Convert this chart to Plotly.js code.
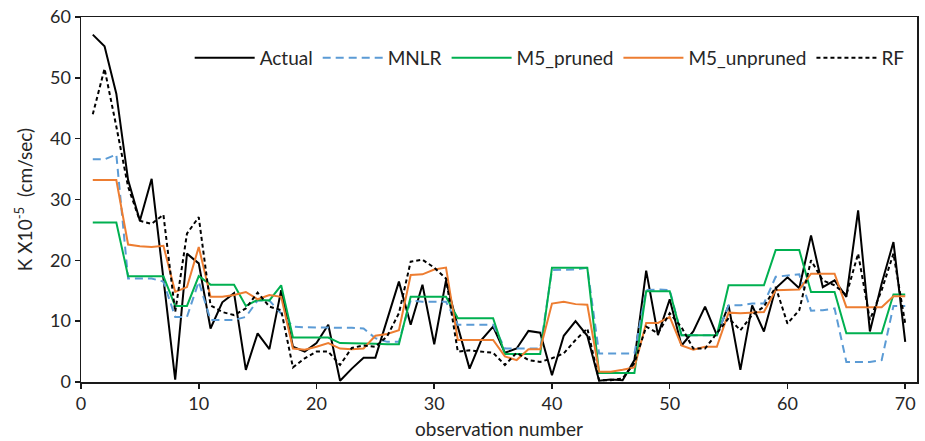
<!DOCTYPE html>
<html>
<head>
<meta charset="utf-8">
<script src="https://cdn.plot.ly/plotly-3.0.1.min.js"></script>
<style>html,body{margin:0;padding:0;background:#fff;}#chart{width:925px;height:441px;}</style>
</head>
<body>
<div id="chart"></div>
<script>
const obs = Array.from({length: 70}, (_, i) => i + 1);

const actual = [57.1,55.2,47.4,33.2,26.5,33.4,17.0,0.4,21.1,19.5,
  8.8,13.1,14.6,2.0,8.0,5.4,15.1,5.8,5.0,6.4,
  9.4,0.2,2.2,4.0,4.0,10.2,16.5,9.4,16.0,6.2,
  16.7,9.1,2.2,6.9,9.1,4.8,5.5,8.4,8.1,1.1,
  7.6,10.0,7.6,0.2,0.4,0.3,3.6,18.3,7.7,13.6,
  6.0,8.3,12.4,7.7,12.6,2.0,12.6,8.3,15.4,17.2,
  15.4,24.1,15.6,16.7,14.0,28.2,8.3,16.2,23.0,6.6];

const mnlr = [36.6,36.6,37.4,17.0,17.0,17.0,16.5,10.7,10.7,16.5,
  10.2,10.2,10.2,10.7,13.4,13.4,11.3,9.1,9.0,9.0,
  9.0,8.9,8.9,8.8,7.2,6.6,6.6,13.4,13.2,13.2,
  13.2,9.4,9.4,9.4,9.4,5.5,5.5,5.5,5.5,18.4,
  18.4,18.5,18.8,4.7,4.7,4.7,4.7,15.1,15.2,15.1,
  7.7,7.7,7.7,7.7,12.6,12.6,12.9,12.9,17.3,17.5,
  17.7,11.7,11.8,12.1,3.3,3.3,3.3,3.6,12.5,12.5];

const m5Pruned = [26.2,26.2,26.2,17.4,17.4,17.4,17.4,12.5,12.5,17.4,
  16.0,16.0,16.0,12.5,13.5,13.4,15.9,7.3,7.3,7.3,
  7.3,6.4,6.4,6.4,6.3,6.2,6.2,14.0,14.0,14.0,
  14.0,10.5,10.5,10.5,10.5,4.6,4.6,4.6,4.6,18.8,
  18.8,18.8,18.8,1.5,1.5,1.5,1.5,14.9,14.9,14.9,
  7.7,7.7,7.7,7.7,15.9,15.9,15.9,15.9,21.7,21.7,
  21.7,14.8,14.8,14.8,8.0,8.0,8.0,8.0,14.4,14.4];

const m5Unpruned = [33.2,33.2,33.2,22.6,22.3,22.2,22.4,14.8,15.6,22.2,
  14.0,14.0,14.3,14.8,13.6,14.3,14.0,5.5,5.3,5.8,
  6.4,5.5,5.4,5.5,7.6,7.9,8.5,17.6,17.7,18.5,
  18.8,6.9,6.9,6.9,6.9,4.2,3.6,5.4,5.4,12.9,
  13.2,12.8,12.7,1.7,1.7,2.0,2.4,9.7,9.7,10.7,
  6.0,5.3,5.8,5.8,11.4,11.3,11.4,11.5,15.1,15.1,
  15.2,17.8,17.8,17.8,12.3,12.3,12.3,12.3,14.1,14.1];

const rf = [44.0,51.5,42.0,32.1,26.5,26.0,27.5,11.5,24.4,27.1,
  12.6,11.5,11.0,12.1,14.7,12.4,11.8,2.4,3.9,5.0,
  5.0,2.8,5.6,6.0,5.8,7.5,11.3,19.8,20.1,18.8,
  17.0,5.0,5.2,5.0,4.8,2.8,4.8,3.6,3.3,3.9,
  4.7,6.9,8.8,0.3,0.3,0.6,3.1,9.1,8.0,11.3,
  9.0,5.5,5.5,8.0,10.5,8.5,11.0,12.4,15.6,9.6,
  11.8,20.0,16.7,15.9,14.3,21.1,10.2,15.1,21.1,9.6];

const xTicks = [0,10,20,30,40,50,60,70];
const yTicks = [0,10,20,30,40,50,60];

const FONT = 'Lato, "Open Sans", sans-serif';

const traces = [
  {x: obs, y: actual, name: 'Actual', mode: 'lines', line: {color: '#000000', width: 2}},
  {x: obs, y: mnlr, name: 'MNLR', mode: 'lines', line: {color: '#5B9BD5', width: 2, dash: '8px,5px'}},
  {x: obs, y: m5Pruned, name: 'M5_pruned', mode: 'lines', line: {color: '#00B050', width: 2}},
  {x: obs, y: m5Unpruned, name: 'M5_unpruned', mode: 'lines', line: {color: '#ED7D31', width: 2}},
  {x: obs, y: rf, name: 'RF', mode: 'lines', line: {color: '#000000', width: 2, dash: '4px,3px'}}
];

const layout = {
  width: 925, height: 441,
  margin: {l: 81, r: 8, t: 17, b: 59},
  paper_bgcolor: '#ffffff', plot_bgcolor: '#ffffff',
  font: {family: FONT, size: 18, color: '#262626'},
  showlegend: true,
  legend: {
    orientation: 'h', x: 0.13, xanchor: 'left', y: 0.888, yanchor: 'middle',
    bgcolor: 'rgba(0,0,0,0)', font: {family: FONT, size: 19, color: '#262626'},
    itemwidth: 60
  },
  xaxis: {
    range: [0, 71], tickvals: xTicks, ticktext: xTicks.map(String),
    showgrid: false, zeroline: false, showline: true, mirror: true,
    linecolor: '#1a1a1a', linewidth: 1.5,
    ticks: 'outside', ticklen: 5, tickwidth: 1.5, tickcolor: '#1a1a1a',
    tickfont: {family: FONT, size: 18, color: '#262626'},
    title: {text: 'observation number', font: {family: FONT, size: 19, color: '#262626'}, standoff: 9}
  },
  yaxis: {
    range: [0, 60], tickvals: yTicks, ticktext: yTicks.map(String),
    showgrid: false, zeroline: false, showline: true, mirror: true,
    linecolor: '#1a1a1a', linewidth: 1.5,
    ticks: 'outside', ticklen: 5, tickwidth: 1.5, tickcolor: '#1a1a1a',
    tickfont: {family: FONT, size: 18, color: '#262626'},
    title: {text: 'K X10<sup>-5</sup>  (cm/sec)', font: {family: FONT, size: 19, color: '#262626'}, standoff: 12}
  }
};

Plotly.newPlot('chart', traces, layout, {staticPlot: true, displayModeBar: false});
</script>
</body>
</html>
